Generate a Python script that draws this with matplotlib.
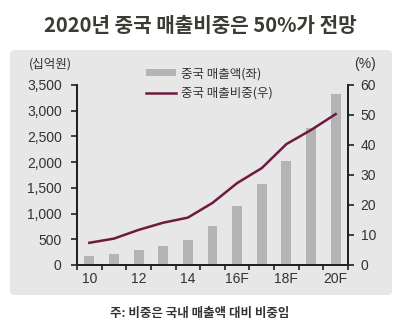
import matplotlib
matplotlib.use("Agg")
import matplotlib.pyplot as plt
from matplotlib.patches import FancyBboxPatch, Patch
from matplotlib.lines import Line2D

plt.rcParams['font.family'] = ['Liberation Sans', 'Noto Sans CJK KR', 'DejaVu Sans']

years = ['10', '11', '12', '13', '14', '15F', '16F', '17F', '18F', '19F', '20F']
tick_labels = ['10', '', '12', '', '14', '', '16F', '', '18F', '', '20F']
sales = [170, 220, 290, 360, 480, 750, 1140, 1570, 2030, 2660, 3320]
share = [7.4, 8.8, 11.7, 14.1, 15.8, 20.7, 27.3, 32.3, 40.3, 45.0, 50.3]

bar_color = '#b4b4b4'
line_color = '#6e1a40'
txt = '#333333'

fig = plt.figure(figsize=(4.0, 3.33), dpi=100)
fig.patch.set_facecolor('white')

panel = FancyBboxPatch((10/400, 1-295/333), 382/400, 245/333,
                       boxstyle='round,pad=0,rounding_size=0.012',
                       transform=fig.transFigure, facecolor='#e7e7e7',
                       edgecolor='none', zorder=-5)
fig.patches.append(panel)

fig.text(0.5, 1-25/333, '2020년 중국 매출비중은 50%가 전망', ha='center', va='center',
         fontsize=14.5, fontweight='bold', color='#3b3a33',
         family=['Noto Sans CJK KR', 'DejaVu Sans'])
fig.text(0.5, 1-314/333, '주: 비중은 국내 매출액 대비 비중임', ha='center', va='center',
         fontsize=9, fontweight='bold', color='#333333',
         family=['Noto Sans CJK KR', 'DejaVu Sans'])

ax = fig.add_axes([77/400, 1-265/333, (348-77)/400, (265-85)/333])
ax.set_facecolor('none')
x = list(range(len(years)))
ax.bar(x, sales, width=0.4, color=bar_color, zorder=2)
ax.set_xlim(-0.5, len(years) - 0.5)
ax.set_ylim(0, 3500)
ax.set_yticks(range(0, 3501, 500))
ax.set_yticklabels([f'{v:,}' for v in range(0, 3501, 500)])

ax2 = ax.twinx()
ax2.plot(x, share, color=line_color, lw=1.8, zorder=3)
ax2.set_ylim(0, 60)
ax2.set_yticks(range(0, 61, 10))

for a in (ax, ax2):
    a.spines['top'].set_visible(False)
    for s in ('left', 'right', 'bottom'):
        a.spines[s].set_linewidth(1.4)
        a.spines[s].set_color('#222222')

ax.set_xticks([i - 0.5 for i in range(len(years) + 1)])
ax.set_xticklabels([])
ax.set_xticks(x, minor=True)
ax.set_xticklabels(tick_labels, minor=True)
ax.tick_params(axis='x', which='major', direction='out', length=3.5, width=1.2, color='#222222')
ax.tick_params(axis='x', which='minor', length=0, pad=5, labelsize=10, labelcolor=txt)
ax.tick_params(axis='y', direction='out', length=4, width=1.2, color='#222222',
               labelsize=10, labelcolor=txt, pad=7)
ax2.tick_params(axis='y', direction='out', length=4, width=1.2, color='#222222',
                labelsize=10, labelcolor=txt, pad=5)

fig.text(50/400, 1-64/333, '(십억원)', ha='center', va='center', fontsize=9, color=txt,
         family=['Noto Sans CJK KR', 'DejaVu Sans'])
fig.text(365/400, 1-64/333, '(%)', ha='center', va='center', fontsize=10, color=txt)

handles = [Patch(facecolor=bar_color, edgecolor='none'),
           Line2D([0], [0], color=line_color, lw=1.8)]
leg = fig.legend(handles, ['중국 매출액(좌)', '중국 매출비중(우)'],
                 loc='upper left', bbox_to_anchor=(140/400, 1-61/333),
                 frameon=False, handlelength=2.4, handleheight=0.45,
                 labelspacing=0.5, handletextpad=0.4, borderpad=0,
                 prop={'family': ['Noto Sans CJK KR', 'DejaVu Sans'], 'size': 9})
for t in leg.get_texts():
    t.set_color(txt)

fig.savefig('out.png', dpi=100)
